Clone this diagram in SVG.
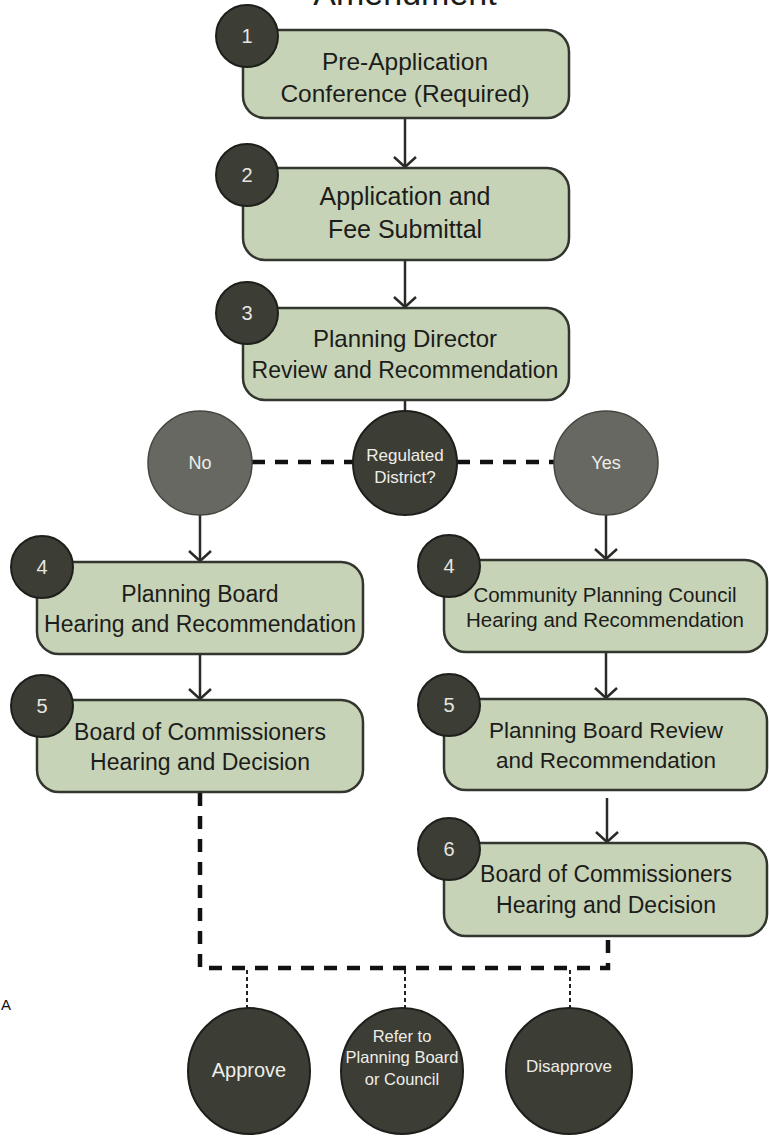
<svg xmlns="http://www.w3.org/2000/svg" width="769" height="1137" viewBox="0 0 769 1137">
<style>
  .box { fill: #c6d3b7; stroke: #33352f; stroke-width: 2.5; }
  .num { fill: #3c3d35; stroke: #1e1f1b; stroke-width: 2; }
  .numt { fill: #e6e6e0; font-family: "Liberation Sans", Arial, sans-serif; font-size: 20px; text-anchor: middle; }
  .bt { fill: #1c1c1a; font-family: "Liberation Sans", Arial, sans-serif; text-anchor: middle; }
  .dark { fill: #3c3d35; stroke: #1e1f1b; stroke-width: 2; }
  .mid { fill: #676862; stroke: #45463f; stroke-width: 1.5; }
  .wt { fill: #eeeee8; font-family: "Liberation Sans", Arial, sans-serif; text-anchor: middle; }
  .arrow { fill: none; stroke: #2a2b27; stroke-width: 2.5; marker-end: url(#chev); }
  .plain { fill: none; stroke: #2a2b27; stroke-width: 2.5; }
  .dash { fill: none; stroke: #111; stroke-width: 4.5; stroke-dasharray: 13 10; }
  .dot { fill: none; stroke: #222; stroke-width: 2; stroke-dasharray: 4 3; }
</style>
<defs>
  <marker id="chev" markerUnits="userSpaceOnUse" markerWidth="30" markerHeight="30" viewBox="-15 -15 30 30" refX="0" refY="0" orient="auto">
    <path d="M-10,-11 L0,0 L-10,11" fill="none" stroke="#2a2b27" stroke-width="2.5"/>
  </marker>
</defs>

<text x="405" y="5" class="bt" font-size="34">Amendment</text>
<text x="1" y="1010" fill="#111" font-family="Liberation Sans, Arial, sans-serif" font-size="15">A</text>

<g id="connectors">
  <path class="arrow" d="M405,118 V167"/>
  <path class="arrow" d="M405,260 V307"/>
  <path class="plain" d="M405,400 V411"/>
  <path class="dash" d="M252,462 H353"/>
  <path class="dash" d="M457,462 H554"/>
  <path class="arrow" d="M200,515 V561"/>
  <path class="arrow" d="M606,515 V559"/>
  <path class="arrow" d="M200,654 V699"/>
  <path class="arrow" d="M606,652 V698"/>
  <path class="arrow" d="M607,798 V842"/>
  <path class="dash" d="M200,793 V968 H608 V937"/>
  <path class="dot" d="M247,970 V1008"/>
  <path class="dot" d="M405,970 V1008"/>
  <path class="dot" d="M570,970 V1008"/>
</g>

<g id="step1">
  <rect class="box" x="243" y="30" width="326" height="88" rx="22"/>
  <circle class="num" cx="247" cy="36" r="31"/>
  <text class="numt" x="247" y="43">1</text>
  <text class="bt" x="405" y="70" font-size="24.5">Pre-Application</text>
  <text class="bt" x="405" y="102" font-size="24.5">Conference (Required)</text>
</g>

<g id="step2">
  <rect class="box" x="243" y="168" width="326" height="92" rx="22"/>
  <circle class="num" cx="247" cy="175" r="31"/>
  <text class="numt" x="247" y="182">2</text>
  <text class="bt" x="405" y="205" font-size="25">Application and</text>
  <text class="bt" x="405" y="238" font-size="25">Fee Submittal</text>
</g>

<g id="step3">
  <rect class="box" x="243" y="308" width="326" height="92" rx="22"/>
  <circle class="num" cx="247" cy="313" r="31"/>
  <text class="numt" x="247" y="320">3</text>
  <text class="bt" x="405" y="347" font-size="24">Planning Director</text>
  <text class="bt" x="405" y="378" font-size="23">Review and Recommendation</text>
</g>

<g id="regulated">
  <circle class="dark" cx="405" cy="463" r="52"/>
  <text class="wt" x="405" y="461" font-size="17">Regulated</text>
  <text class="wt" x="405" y="483" font-size="17">District?</text>
</g>

<g id="no">
  <circle class="mid" cx="200" cy="463" r="52"/>
  <text class="wt" x="200" y="469" font-size="18">No</text>
</g>

<g id="yes">
  <circle class="mid" cx="606" cy="463" r="52"/>
  <text class="wt" x="606" y="469" font-size="18">Yes</text>
</g>

<g id="step4-left">
  <rect class="box" x="37" y="562" width="326" height="92" rx="22"/>
  <circle class="num" cx="42" cy="567" r="31"/>
  <text class="numt" x="42" y="574">4</text>
  <text class="bt" x="200" y="602" font-size="23">Planning Board</text>
  <text class="bt" x="200" y="632" font-size="23">Hearing and Recommendation</text>
</g>

<g id="step5-left">
  <rect class="box" x="37" y="700" width="326" height="92" rx="22"/>
  <circle class="num" cx="42" cy="706" r="31"/>
  <text class="numt" x="42" y="713">5</text>
  <text class="bt" x="200" y="740" font-size="23">Board of Commissioners</text>
  <text class="bt" x="200" y="770" font-size="23">Hearing and Decision</text>
</g>

<g id="step4-right">
  <rect class="box" x="444" y="560" width="323" height="92" rx="22"/>
  <circle class="num" cx="449" cy="566" r="31"/>
  <text class="numt" x="449" y="573">4</text>
  <text class="bt" x="605" y="602" font-size="20.5">Community Planning Council</text>
  <text class="bt" x="605" y="627" font-size="20.5">Hearing and Recommendation</text>
</g>

<g id="step5-right">
  <rect class="box" x="444" y="699" width="323" height="91" rx="22"/>
  <circle class="num" cx="449" cy="705" r="31"/>
  <text class="numt" x="449" y="712">5</text>
  <text class="bt" x="606" y="738" font-size="22.5">Planning Board Review</text>
  <text class="bt" x="606" y="768" font-size="22.5">and Recommendation</text>
</g>

<g id="step6-right">
  <rect class="box" x="444" y="843" width="323" height="93" rx="22"/>
  <circle class="num" cx="449" cy="849" r="31"/>
  <text class="numt" x="449" y="856">6</text>
  <text class="bt" x="606" y="882" font-size="23">Board of Commissioners</text>
  <text class="bt" x="606" y="913" font-size="23">Hearing and Decision</text>
</g>

<g id="approve">
  <ellipse class="dark" cx="249" cy="1071" rx="61" ry="63"/>
  <text class="wt" x="249" y="1077" font-size="20">Approve</text>
</g>

<g id="refer">
  <ellipse class="dark" cx="402" cy="1071" rx="61" ry="63"/>
  <text class="wt" x="402" y="1042" font-size="16.5">Refer to</text>
  <text class="wt" x="402" y="1063" font-size="16.5">Planning Board</text>
  <text class="wt" x="402" y="1085" font-size="16.5">or Council</text>
</g>

<g id="disapprove">
  <ellipse class="dark" cx="569" cy="1071" rx="63" ry="63"/>
  <text class="wt" x="569" y="1072" font-size="17">Disapprove</text>
</g>
</svg>
